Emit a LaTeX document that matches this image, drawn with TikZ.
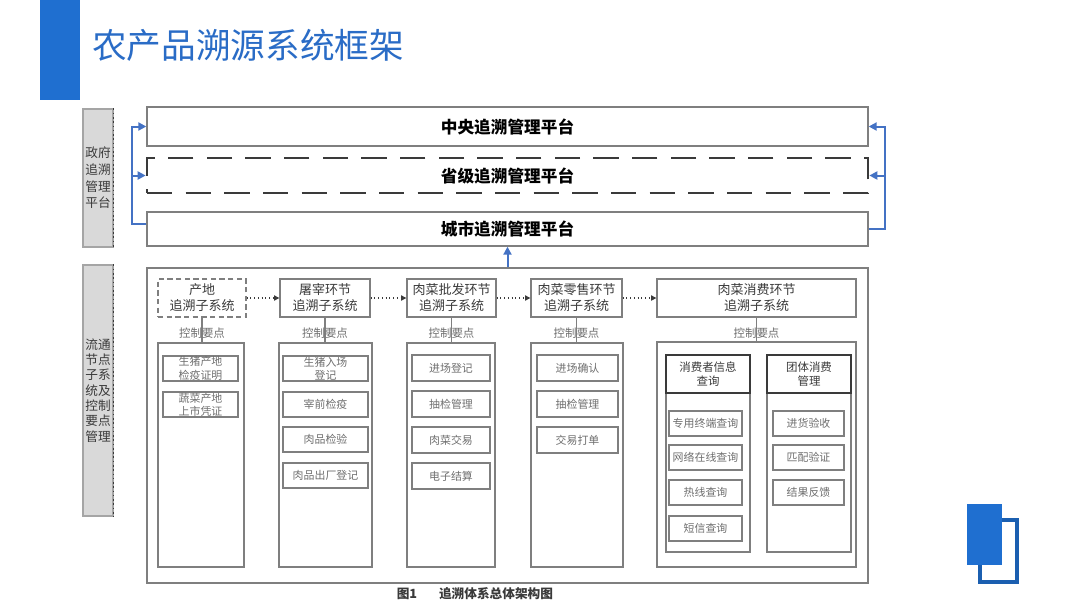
\documentclass[tikz,border=0pt]{standalone}
\usepackage{fontspec}
\setmainfont{Noto Sans CJK SC}
\usetikzlibrary{arrows.meta}
\definecolor{barblue}{HTML}{1F6FD0}
\definecolor{darkblue}{HTML}{1B5FB0}
\definecolor{titleblue}{HTML}{2A6CC6}
\definecolor{arrblue}{HTML}{4472C4}
\definecolor{lineg}{HTML}{7F7F7F}
\definecolor{txtg}{HTML}{6E6E6E}
\definecolor{txtd}{HTML}{3A3A3A}
\definecolor{labfill}{HTML}{D9D9D9}
\begin{document}
\begin{tikzpicture}[x=0.75pt,y=-0.75pt,
  sz/.style 2 args={minimum width=#1*0.75pt, minimum height=#2*0.75pt, inner sep=0pt},
  box/.style={draw=lineg, line width=1pt},
  plat/.style={box, font=\fontsize{12.5}{14}\selectfont\bfseries, text=black},
  sub/.style={box, font=\fontsize{9.75}{12}\selectfont, text=txtd, align=center},
  item/.style={box, font=\fontsize{8.2}{10}\selectfont, text=txtg, align=center},
  ctl/.style={font=\fontsize{8.6}{10}\selectfont, text=txtg},
  lab/.style={fill=labfill, draw=lineg!70, line width=0.8pt, font=\fontsize{9.5}{12.5}\selectfont, text=txtd, align=center},
  barr/.style={draw=arrblue, line width=1.5pt},
  bhead/.style={-{Triangle[length=6pt,width=6pt]}},
  dotarr/.style={draw=txtd, dotted, line width=0.8pt, -{Triangle[length=4pt,width=4pt]}},
  vln/.style={draw=lineg, line width=1pt}
]
\useasboundingbox (0,0) rectangle (1080,608);

% title
\fill[barblue] (40,0) rectangle (80,100);
\node[anchor=west, text=titleblue, font=\fontsize{26}{29}\selectfont, inner sep=0pt] (title) at (92,45) {农产品溯源系统框架};

% bottom-right icon
\draw[darkblue, line width=3pt] (979.5,519.5) rectangle (1016.5,581.5);
\fill[barblue] (967,504) rectangle (1002,565);

% left labels
\node[lab, sz={30}{138}] (g1) at (98,178) {政府\\追溯\\管理\\平台};
\draw[txtd, dotted, line width=1.2pt] (g1.north east) -- (g1.south east);
\node[lab, sz={30}{251}, font=\fontsize{9.5}{11.5}\selectfont] (g2) at (98,390.5) {流通\\节点\\子系\\统及\\控制\\要点\\管理};
\draw[txtd, dotted, line width=1.2pt] (g2.north east) -- (g2.south east);

% platforms
\node[plat, sz={721}{39}] (cen) at (507.5,126.5) {中央追溯管理平台};
\node[plat, sz={721}{35}, draw=txtd, line width=2pt, dash pattern=on 19pt off 10pt] (prov) at (507.5,175.5) {省级追溯管理平台};
\node[plat, sz={721}{34}] (city) at (507.5,229) {城市追溯管理平台};

% left blue bus
\coordinate (lb) at (132,224);
\draw[barr, bhead] ([yshift=3.75pt]city.west) -- (lb) |- (cen.west);
\draw[barr, bhead] (lb |- prov.west) -- (prov.west);
% right blue bus
\coordinate (rb) at (885,229);
\draw[barr, bhead] (city.east) -- (rb) |- (cen.east);
\draw[barr, bhead] (rb |- prov.east) -- (prov.east);

% big frame
\node[box, sz={721}{315}] (frame) at (507.5,425.5) {};
\draw[barr, bhead] (frame.north) -- (city.south);

% top subsystems
\node[sub, sz={88}{38}, dashed, dash pattern=on 4pt off 2.5pt] (p1) at (202,298) {产地\\追溯子系统};
\node[sub, sz={90}{38}] (p2) at (325,298) {屠宰环节\\追溯子系统};
\node[sub, sz={89}{38}] (p3) at (451.5,298) {肉菜批发环节\\追溯子系统};
\node[sub, sz={91}{38}] (p4) at (576.5,298) {肉菜零售环节\\追溯子系统};
\node[sub, sz={199}{38}] (p5) at (756.5,298) {肉菜消费环节\\追溯子系统};
\draw[dotarr] (p1) -- (p2);
\draw[dotarr] (p2) -- (p3);
\draw[dotarr] (p3) -- (p4);
\draw[dotarr] (p4) -- (p5);

% columns
\node[box, sz={86}{224}] (c1) at (201,455) {};
\node[box, sz={93}{224}] (c2) at (325.5,455) {};
\node[box, sz={88}{224}] (c3) at (451,455) {};
\node[box, sz={92}{224}] (c4) at (577,455) {};
\node[box, sz={199}{225}] (c5) at (756.5,454.5) {};

\foreach \i in {1,...,5} {
  \draw[vln] (p\i.south) -- (p\i.south |- c\i.north);
  \node[ctl] (k\i) at ([yshift=-11.25pt]p\i.south) {控制要点};
}

% column 1
\node[item, sz={75}{25}] (i11) at (200.5,368.5) {生猪产地\\检疫证明};
\node[item, sz={75}{25}] (i12) at (200.5,404.5) {蔬菜产地\\上市凭证};
% column 2
\node[item, sz={85}{25}] (i21) at (325.5,368.5) {生猪入场\\登记};
\node[item, sz={85}{25}] (i22) at (325.5,404.5) {宰前检疫};
\node[item, sz={85}{25}] (i23) at (325.5,439.5) {肉品检验};
\node[item, sz={85}{25}] (i24) at (325.5,475.5) {肉品出厂登记};
% column 3
\node[item, sz={78}{26}] (i31) at (451,368) {进场登记};
\node[item, sz={78}{26}] (i32) at (451,404) {抽检管理};
\node[item, sz={78}{26}] (i33) at (451,440) {肉菜交易};
\node[item, sz={78}{26}] (i34) at (451,476) {电子结算};
% column 4
\node[item, sz={81}{26}] (i41) at (577.5,368) {进场确认};
\node[item, sz={81}{26}] (i42) at (577.5,404) {抽检管理};
\node[item, sz={81}{26}] (i43) at (577.5,440) {交易打单};
% column 5
\node[box, sz={84}{197}] (s1) at (708,453.5) {};
\node[sub, sz={84}{38}, draw=txtd, font=\fontsize{8.6}{11}\selectfont] (h1) at (708,374) {消费者信息\\查询};
\node[box, sz={84}{197}] (s2) at (809,453.5) {};
\node[sub, sz={84}{38}, draw=txtd, font=\fontsize{8.6}{11}\selectfont] (h2) at (809,374) {团体消费\\管理};
\node[item, sz={73}{25}] (j1) at (705.5,423.5) {专用终端查询};
\node[item, sz={73}{25}] (j2) at (705.5,457.5) {网络在线查询};
\node[item, sz={73}{25}] (j3) at (705.5,492.5) {热线查询};
\node[item, sz={73}{25}] (j4) at (705.5,528.5) {短信查询};
\node[item, sz={71}{25}] (m1) at (808.5,423.5) {进货验收};
\node[item, sz={71}{25}] (m2) at (808.5,457.5) {匹配验证};
\node[item, sz={71}{25}] (m3) at (808.5,492.5) {结果反馈};

% caption
\node[font=\fontsize{9.5}{11}\selectfont\bfseries, text=txtd] (cap1) at (407,594) {图1};
\node[font=\fontsize{9.5}{11}\selectfont\bfseries, text=txtd] (cap2) at (496,594) {追溯体系总体架构图};
\end{tikzpicture}
\end{document}
